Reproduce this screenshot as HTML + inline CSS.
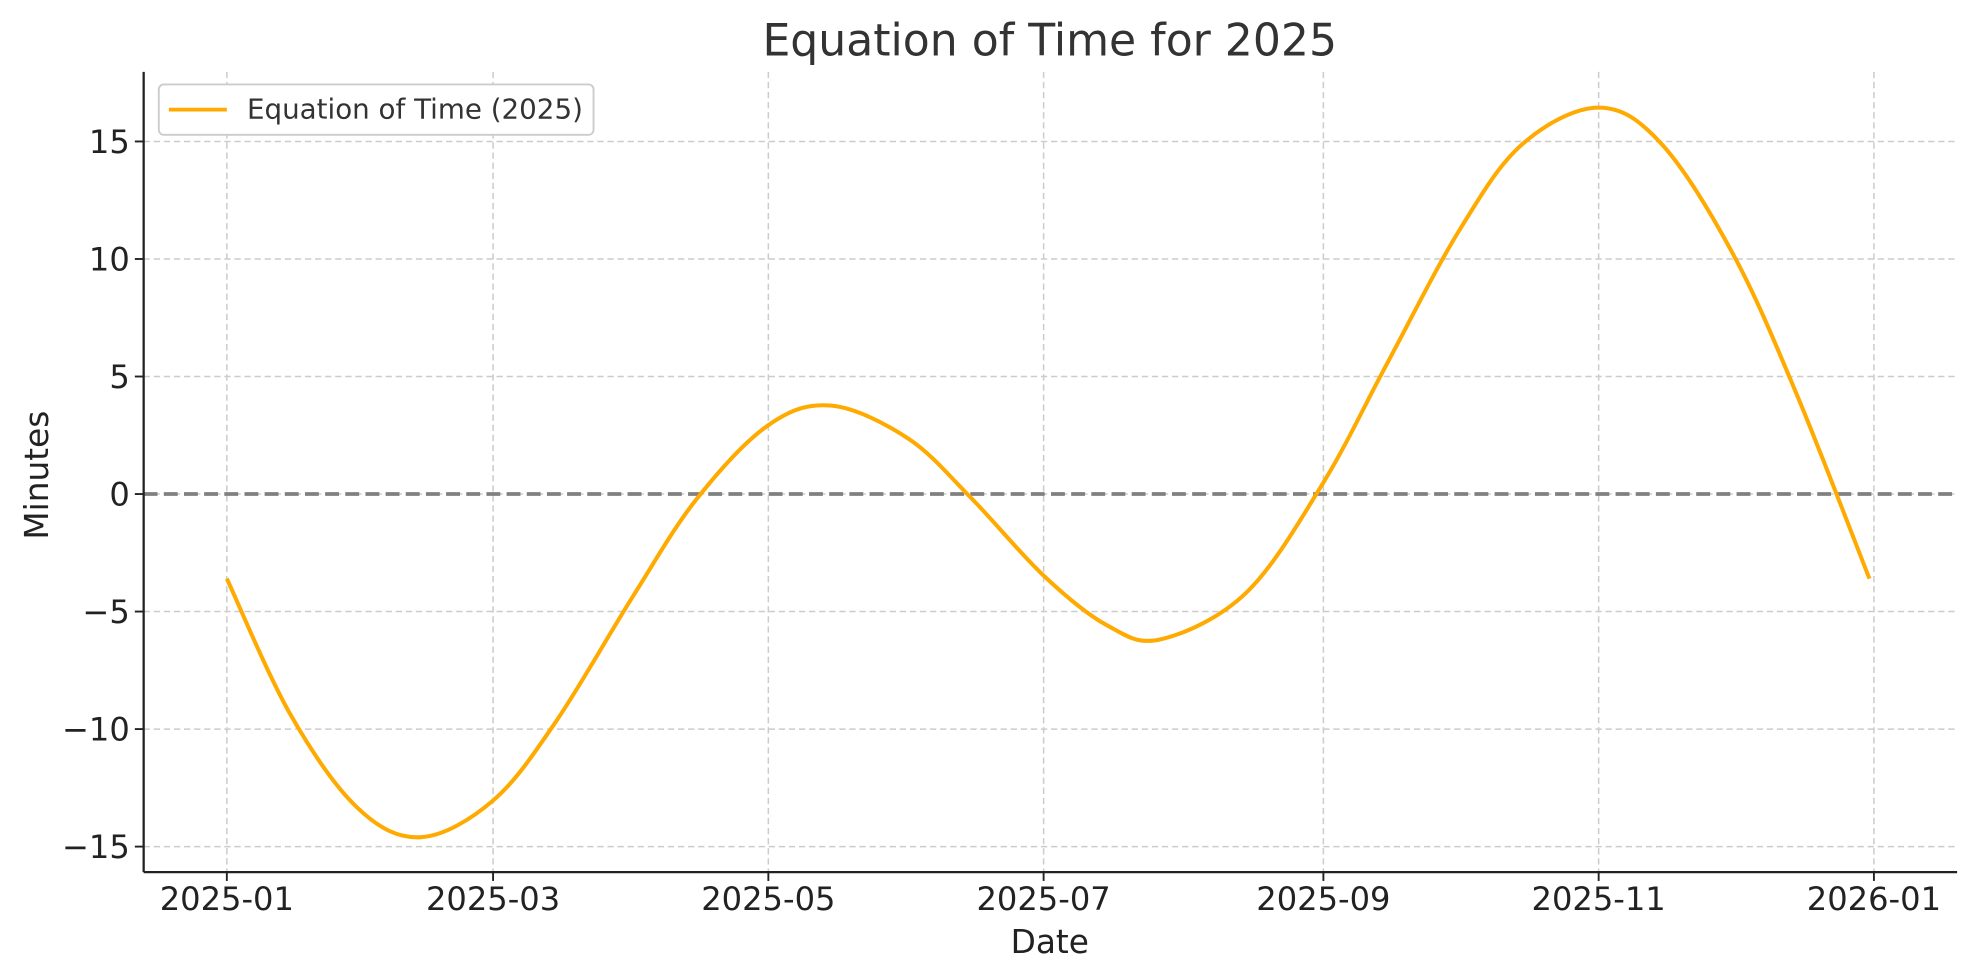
<!DOCTYPE html>
<html><head><meta charset="utf-8"><style>
html,body{margin:0;padding:0;background:#fff;}
svg{display:block;font-family:"DejaVu Sans","Liberation Sans",sans-serif;}
</style></head><body>
<svg id="chart" width="1976" height="980" viewBox="0 0 1568 777.6" preserveAspectRatio="none">
<rect width="1568" height="778" fill="#fff"/>
<text x="833" y="44" text-anchor="middle" font-size="35" fill="#333">Equation of Time for 2025</text>
<g id="grid"></g>
<g id="zero"></g>
<g id="series"></g>
<g id="axes"></g>
<text x="833" y="756" text-anchor="middle" font-size="26" fill="#222">Date</text>
<text transform="translate(38,377) rotate(-90)" text-anchor="middle" font-size="26" fill="#222">Minutes</text>
<g>
<rect x="126" y="67" width="345" height="40" rx="4" fill="#fff" stroke="#ccc" stroke-width="1.5"/>
<line x1="134" y1="87" x2="180" y2="87" stroke="#FFAA00" stroke-width="3"/>
<text x="196" y="94" font-size="22" fill="#333">Equation of Time (2025)</text>
</g>
</svg>
<script>
const dayOffsets = [0,14,29,43,59,73,90,104,120,134,151,165,181,195,207,226,243,257,273,287,304,318,334,348,364];
const minutes = [-3.6,-9.35,-13.36,-14.6,-13.04,-9.66,-4.35,-0.24,2.93,3.76,2.36,-0.18,-3.47,-5.58,-6.18,-4.18,0.49,5.51,11.18,14.87,16.44,14.88,10.13,4.19,-3.6];
const xTickDays = [0,59,120,181,243,304,365];
const xTickLabels = ["2025-01","2025-03","2025-05","2025-07","2025-09","2025-11","2026-01"];
const yTicks = [-15,-10,-5,0,5,10,15];
const yTickLabels = ["\u221215","\u221210","\u22125","0","5","10","15"];

const NS="http://www.w3.org/2000/svg";
const L=114,R=1553,T=57,B=692;
const xs=d=>180+d*(1487-180)/365;
const ys=v=>392-v*18.65;
function mk(tag,attrs,parent){const e=document.createElementNS(NS,tag);for(const k in attrs)e.setAttribute(k,attrs[k]);parent.appendChild(e);return e;}
const grid=document.getElementById('grid'),axes=document.getElementById('axes');
xTickDays.forEach((d,i)=>{
  const x=xs(d);
  const g=mk('line',{x1:x,y1:T,x2:x,y2:B,stroke:'#ccc','stroke-width':1.2,'stroke-dasharray':'5,3'},grid);
  
  
  const t=mk('line',{x1:x,y1:B,x2:x,y2:B+7,stroke:'#222','stroke-width':1.5},axes);
  
  
  const lb=mk('text',{x:x,y:B+30,'text-anchor':'middle','font-size':25.5,fill:'#222'},axes);
  lb.textContent=xTickLabels[i];
  
  
});
yTicks.forEach((v,i)=>{
  const y=ys(v);
  const g=mk('line',{x1:L,y1:y,x2:R,y2:y,stroke:'#ccc','stroke-width':1.2,'stroke-dasharray':'5,3'},grid);
  
  
  const t=mk('line',{x1:L-7,y1:y,x2:L,y2:y,stroke:'#222','stroke-width':1.5},axes);
  
  
  const lb=mk('text',{x:L-11,y:y+9,'text-anchor':'end','font-size':25.5,fill:'#222'},axes);
  lb.textContent=yTickLabels[i];
  
  
});
const sp1=mk('line',{x1:L,y1:T,x2:L,y2:B,stroke:'#222','stroke-width':1.8},axes);


const sp2=mk('line',{x1:L,y1:B,x2:R,y2:B,stroke:'#222','stroke-width':1.8},axes);


const z=mk('line',{x1:L,y1:ys(0),x2:R,y2:ys(0),stroke:'#808080','stroke-width':3,'stroke-dasharray':'11,5'},document.getElementById('zero'));


const P=dayOffsets.map((d,i)=>[xs(d),ys(minutes[i])]);
let dstr=`M${P[0][0]},${P[0][1]}`;
for(let i=0;i<P.length-1;i++){
  const p0=P[Math.max(0,i-1)],p1=P[i],p2=P[i+1],p3=P[Math.min(P.length-1,i+2)];
  const c1=[p1[0]+(p2[0]-p0[0])/6,p1[1]+(p2[1]-p0[1])/6];
  const c2=[p2[0]-(p3[0]-p1[0])/6,p2[1]-(p3[1]-p1[1])/6];
  dstr+=` C${c1[0]},${c1[1]} ${c2[0]},${c2[1]} ${p2[0]},${p2[1]}`;
}
const line=mk('path',{d:dstr,fill:'none',stroke:'#FFAA00','stroke-width':3.2,'stroke-linejoin':'round'},document.getElementById('series'));


</script>
</body></html>
